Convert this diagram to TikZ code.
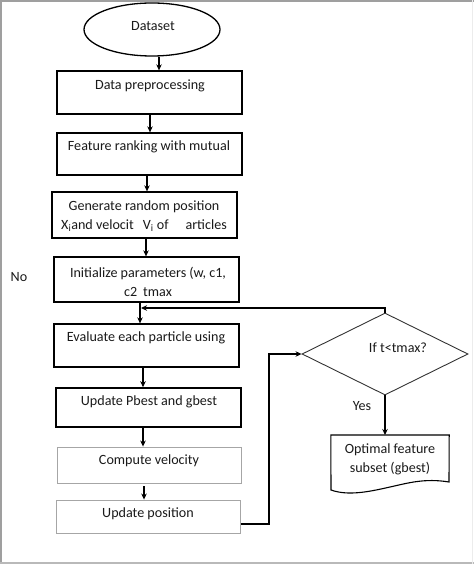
\documentclass[tikz,border=0pt]{standalone}
\usepackage{fontspec}
\setmainfont{Carlito}
\usetikzlibrary{shapes.geometric,arrows.meta}
\definecolor{txt}{HTML}{1A1A1A}
\tikzset{
  box/.style={draw=black, line width=1.3pt, minimum width=185pt, inner sep=0pt},
  lbox/.style={draw=gray!70, line width=0.9pt, minimum width=184pt, inner sep=0pt},
  lbl/.style={font=\fontsize{14.1pt}{19pt}\selectfont, text=txt, align=center, inner sep=0pt},
  arr/.style={line width=1.3pt, -{Stealth[length=6pt,width=5.5pt]}},
  lnk/.style={line width=1.1pt}
}
\begin{document}
\begin{tikzpicture}[x=1pt,y=-1pt]
\useasboundingbox (0,0) rectangle (474,564);
% frame
\draw[gray!75, line width=2.5pt] (0,1) -- (474,1);
\draw[gray!75, line width=2.5pt] (1,0) -- (1,564);
\draw[gray!55, line width=2.5pt] (0,563) -- (474,563);
\draw[gray!15, line width=1.2pt] (472.5,0) -- (472.5,564);

% nodes
\node[draw=black, line width=1.3pt, ellipse, minimum width=136pt, minimum height=53pt, inner sep=0pt] (ell) at (152,29.5) {};
\node[lbl] (tell) at (153,26) {Dataset};

\node[box, minimum height=43pt] (b1) at (149.5,92.5) {};
\node[lbl] (t1) at (150,86) {Data preprocessing};

\node[box, minimum height=42pt] (b2) at (149.5,154) {};
\node[lbl] (t2) at (149,147) {Feature ranking with mutual};

\node[box, minimum height=46pt] (b3) at (144.5,215) {};
\node[lbl] (t3) at (144,216.5) {Generate random position\\X\textsubscript{i}and velocit\hspace{9pt}V\textsubscript{i} of\hspace{17pt}articles};

\node[box, minimum height=45pt] (b4) at (146.5,279.5) {};
\node[lbl] (t4) at (148,281.5) {Initialize parameters (w, c1,\\c2\hspace{6pt}tmax};

\node[box, minimum height=43pt] (b5) at (146.5,345.5) {};
\node[lbl] (t5) at (146,338) {Evaluate each particle using};

\node[box, line width=1.6pt, minimum height=39pt] (b6) at (148.5,407.5) {};
\node[lbl] (t6) at (149,402) {Update Pbest and gbest};

\node[lbox, minimum height=36pt] (b7) at (149,465) {};
\node[lbl] (t7) at (149,461) {Compute velocity};

\node[lbox, minimum height=33pt] (b8) at (148.5,516.5) {};
\node[lbl] (t8) at (148,514) {Update position};

\node[draw=black!80, line width=0.9pt, diamond, minimum width=166pt, minimum height=82pt, inner sep=0pt] (dia) at (385,354) {};
\node[lbl] (tdia) at (398,348) {If t<tmax?};

\node[minimum width=118pt, minimum height=50pt, inner sep=0pt, anchor=north] (doc) at (390,435) {};
\draw[black, line width=1.1pt] (doc.north west) -- (doc.north east) -- (449,482)
  .. controls (425,478) and (408,483) .. (390,487)
  .. controls (368,492) and (348,496) .. (331,490) -- cycle;
\node[lbl] (tdoc) at (390,459.5) {Optimal feature\\subset (gbest)};

\node[lbl] (no) at (19,277) {No};
\node[lbl] (yes) at (362,406) {Yes};

% connectors
\draw[arr] ([xshift=7pt]ell.south) -- ([xshift=7pt]ell.south |- b1.north);
\draw[arr] ([xshift=0.5pt]b1.south) -- ([xshift=0.5pt]b1.south |- b2.north);
\draw[arr] ([xshift=-2.5pt]b2.south) -- ([xshift=-2.5pt]b2.south |- b3.north);
\draw[arr] ([xshift=1.5pt]b3.south) -- ([xshift=1.5pt]b3.south |- b4.north);
\draw[arr] ([xshift=-6.5pt]b4.south) -- ([xshift=-6.5pt]b4.south |- b5.north);
\draw[arr] ([xshift=-3.5pt]b5.south) -- ([xshift=-3.5pt]b5.south |- b6.north);
\draw[arr] ([xshift=-5.5pt]b6.south) -- ([xshift=-5.5pt]b6.south |- b7.north);
\draw[arr] ([xshift=-5pt,yshift=-3pt]b7.south) -- ([xshift=-5pt]b7.south |- b8.north);

\coordinate (fb) at (141,308);
\draw[arr] (dia.north) |- (fb);
\coordinate (lp) at (269,524);
\draw[arr, line width=1.1pt] ([yshift=-7.5pt]b8.east) -- (lp) |- (dia.west);
\draw[arr] (dia.south) -- (dia.south |- doc.north);
\end{tikzpicture}
\end{document}
